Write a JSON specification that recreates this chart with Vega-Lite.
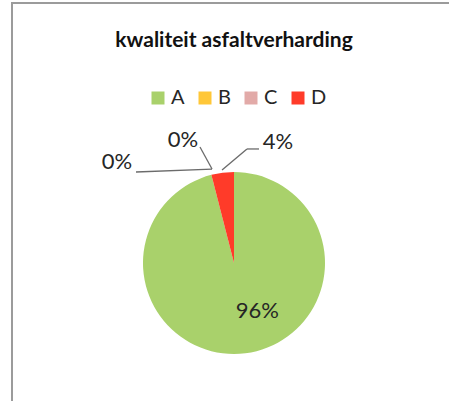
{
  "$schema": "https://vega.github.io/schema/vega-lite/v6.json",
  "width": 444,
  "height": 520,
  "autosize": {"type": "none"},
  "padding": {"left": 12, "top": 3, "right": -7, "bottom": -122},
  "background": "white",
  "config": {"view": {"stroke": "#9b9b9b", "strokeWidth": 2}, "font": "Lato"},
  "title": {
    "text": "kwaliteit asfaltverharding",
    "fontSize": 21,
    "fontWeight": "bold",
    "font": "Lato",
    "color": "#111111",
    "anchor": "middle",
    "frame": "group",
    "offset": -65,
    "baseline": "alphabetic"
  },
  "datasets": {
    "slices": [
      {"klasse": "A", "aandeel": 96},
      {"klasse": "B", "aandeel": 0},
      {"klasse": "C", "aandeel": 0},
      {"klasse": "D", "aandeel": 4}
    ],
    "labels": [
      {"klasse": "A", "label": "96%", "lx": 0.26, "ly": -0.53},
      {"klasse": "B", "label": "0%", "lx": -1.3, "ly": 1.12},
      {"klasse": "C", "label": "0%", "lx": -0.567, "ly": 1.367},
      {"klasse": "D", "label": "4%", "lx": 0.489, "ly": 1.344}
    ],
    "leaders": [
      {"klasse": "B", "x1": -1.089, "y1": 1.011, "x2": -0.244, "y2": 1.044},
      {"klasse": "C", "x1": -0.378, "y1": 1.289, "x2": -0.244, "y2": 1.044},
      {"klasse": "D", "x1": -0.133, "y1": 1.033, "x2": 0.144, "y2": 1.267},
      {"klasse": "D", "x1": 0.144, "y1": 1.267, "x2": 0.278, "y2": 1.267}
    ]
  },
  "layer": [
    {
      "data": {"name": "slices"},
      "mark": {"type": "arc", "outerRadius": 91},
      "encoding": {
        "theta": {"field": "aandeel", "type": "quantitative", "stack": true},
        "order": {"field": "klasse", "sort": "ascending"},
        "color": {
          "field": "klasse",
          "type": "nominal",
          "scale": {"domain": ["A", "B", "C", "D"], "range": ["#A9D16B", "#FFC738", "#E2AAA8", "#FF3B29"]},
          "legend": {
            "orient": "none",
            "legendX": 136,
            "legendY": 85,
            "direction": "horizontal",
            "columns": 4,
            "title": null,
            "symbolType": "square",
            "symbolSize": 169,
            "symbolStrokeWidth": 0,
            "labelFontSize": 20,
            "labelFont": "Lato",
            "labelColor": "#262626",
            "labelOffset": 3,
            "columnPadding": 10
          }
        }
      }
    },
    {
      "data": {"name": "leaders"},
      "mark": {"type": "rule", "color": "#6b6b6b", "strokeWidth": 1.3},
      "encoding": {
        "x": {"field": "x1", "type": "quantitative", "scale": {"domain": [-2.4667, 2.4667], "nice": false, "zero": false}, "axis": null},
        "y": {"field": "y1", "type": "quantitative", "scale": {"domain": [-2.8889, 2.8889], "nice": false, "zero": false}, "axis": null},
        "x2": {"field": "x2"},
        "y2": {"field": "y2"}
      }
    },
    {
      "data": {"name": "labels"},
      "mark": {"type": "text", "fontSize": 22, "font": "Lato", "color": "#262626"},
      "encoding": {
        "x": {"field": "lx", "type": "quantitative", "scale": {"domain": [-2.4667, 2.4667], "nice": false, "zero": false}, "axis": null},
        "y": {"field": "ly", "type": "quantitative", "scale": {"domain": [-2.8889, 2.8889], "nice": false, "zero": false}, "axis": null},
        "text": {"field": "label"}
      }
    }
  ]
}
